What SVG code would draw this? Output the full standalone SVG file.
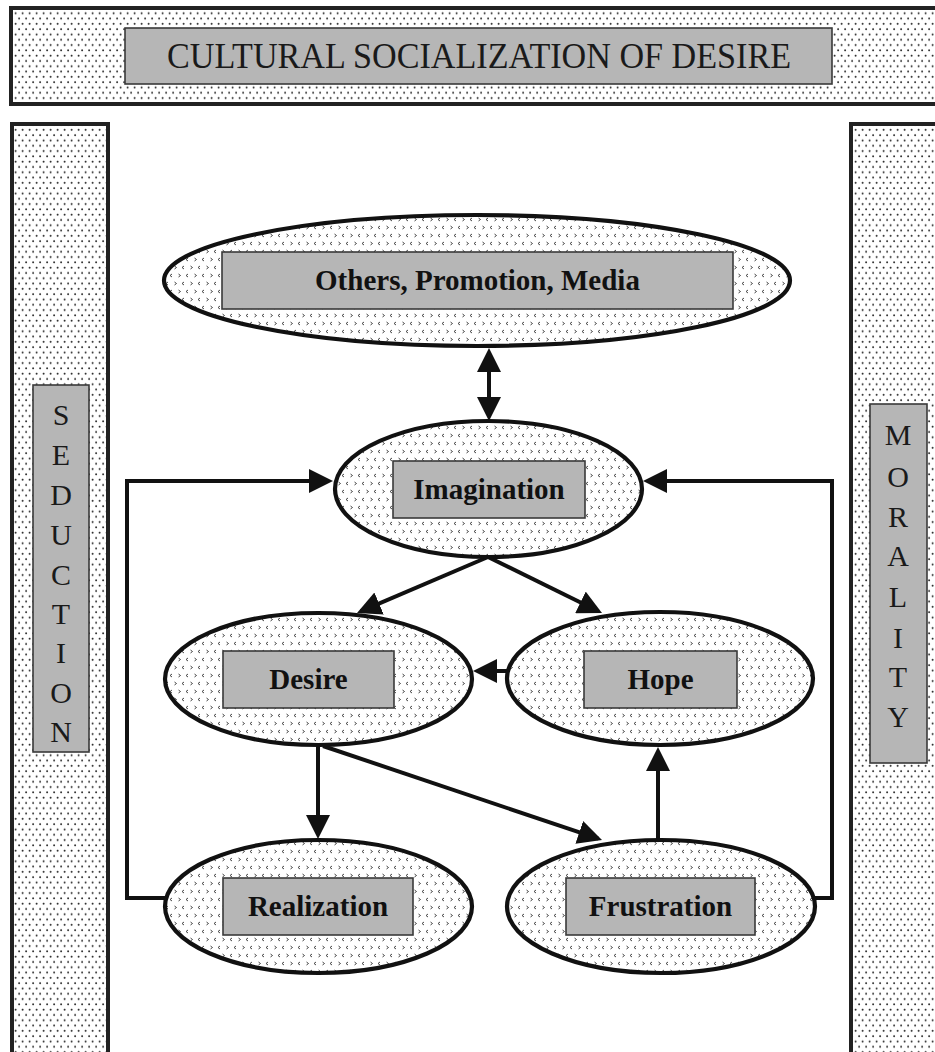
<svg xmlns="http://www.w3.org/2000/svg" width="935" height="1052" viewBox="0 0 935 1052">
<style>
.panel{fill:url(#dots);stroke:#222;stroke-width:4}
.label{fill:#b6b6b6;stroke:#3a3a3a;stroke-width:1.6}
.node{fill:url(#chev);stroke:#111;stroke-width:4.2}
.title{font-family:"Liberation Serif","Times New Roman",serif;font-size:36px;fill:#1a1a1a}
.side{font-family:"Liberation Serif","Times New Roman",serif;font-size:30px;fill:#1a1a1a;text-anchor:middle}
.nt{font-family:"Liberation Serif","Times New Roman",serif;font-size:29px;font-weight:bold;fill:#111;text-anchor:middle}
.conn{fill:none;stroke:#111;stroke-width:4}
</style>
<defs>
<pattern id="dots" patternUnits="userSpaceOnUse" width="7" height="10.6">
<rect width="7" height="10.6" fill="#fff"/>
<circle cx="1.6" cy="2.6" r="1" fill="#2a2a2a"/>
<circle cx="5.1" cy="7.9" r="1" fill="#2a2a2a"/>
</pattern>
<pattern id="chev" patternUnits="userSpaceOnUse" width="16" height="16">
<rect width="16" height="16" fill="#fff"/>
<path d="M2.5,2 L4.5,3.5 L2.5,5 M12,2 L10,3.5 L12,5 M8,10 L6,11.5 L8,13 M14.5,10 L16.5,11.5 L14.5,13 M-1.5,10 L0.5,11.5 L-1.5,13" fill="none" stroke="#333" stroke-width="0.9"/>
</pattern>
<marker id="ah" viewBox="0 0 24 24" refX="20" refY="12" markerWidth="24" markerHeight="24" markerUnits="userSpaceOnUse" orient="auto-start-reverse">
<path d="M0,0 L24,12 L0,24 z" fill="#111"/>
</marker>
</defs>
<rect width="935" height="1052" fill="#fff"/>

<g id="banner">
<rect class="panel" x="11" y="8" width="940" height="96"/>
<rect class="label" x="125" y="28" width="707" height="56"/>
<text class="title" x="479" y="68" text-anchor="middle" textLength="624" lengthAdjust="spacingAndGlyphs">CULTURAL SOCIALIZATION OF DESIRE</text>
</g>

<g id="seduction">
<rect class="panel" x="12" y="124" width="96" height="940"/>
<rect class="label" x="33" y="385" width="56" height="367"/>
<text class="side" x="61"><tspan x="61" y="425">S</tspan><tspan x="61" y="465">E</tspan><tspan x="61" y="505">D</tspan><tspan x="61" y="545">U</tspan><tspan x="61" y="585">C</tspan><tspan x="61" y="624">T</tspan><tspan x="61" y="663">I</tspan><tspan x="61" y="703">O</tspan><tspan x="61" y="742">N</tspan></text>
</g>

<g id="morality">
<rect class="panel" x="851" y="124" width="100" height="940"/>
<rect class="label" x="870" y="404" width="57" height="359"/>
<text class="side" x="898"><tspan x="898" y="445">M</tspan><tspan x="898" y="487">O</tspan><tspan x="898" y="527">R</tspan><tspan x="898" y="566">A</tspan><tspan x="898" y="607">L</tspan><tspan x="898" y="648">I</tspan><tspan x="898" y="687">T</tspan><tspan x="898" y="727">Y</tspan></text>
</g>

<g id="connectors">
<line class="conn" x1="489" y1="352" x2="489" y2="417" marker-start="url(#ah)" marker-end="url(#ah)"/>
<line class="conn" x1="488" y1="557" x2="360.7" y2="611.4" marker-end="url(#ah)"/>
<line class="conn" x1="488" y1="557" x2="598.4" y2="611.2" marker-end="url(#ah)"/>
<line class="conn" x1="507" y1="671" x2="477" y2="671" marker-end="url(#ah)"/>
<line class="conn" x1="318" y1="745" x2="318" y2="835" marker-end="url(#ah)"/>
<line class="conn" x1="323" y1="746" x2="598.2" y2="838.7" marker-end="url(#ah)"/>
<line class="conn" x1="658" y1="840" x2="658" y2="751" marker-end="url(#ah)"/>
<polyline class="conn" points="166,898 127,898 127,481 329,481" marker-end="url(#ah)"/>
<polyline class="conn" points="814,898 832,898 832,481 647,481" marker-end="url(#ah)"/>
</g>

<g id="others">
<ellipse class="node" cx="477" cy="280.5" rx="313" ry="65.5"/>
<rect class="label" x="222" y="252" width="511" height="57"/>
<text class="nt" x="477.5" y="290">Others, Promotion, Media</text>
</g>

<g id="imagination">
<ellipse class="node" cx="488.5" cy="489" rx="153.5" ry="68"/>
<rect class="label" x="393" y="461" width="192" height="57"/>
<text class="nt" x="489" y="499">Imagination</text>
</g>

<g id="desire">
<ellipse class="node" cx="318.5" cy="679" rx="153.5" ry="66"/>
<rect class="label" x="223" y="651" width="171" height="57"/>
<text class="nt" x="308.5" y="689">Desire</text>
</g>

<g id="hope">
<ellipse class="node" cx="660" cy="678.5" rx="153" ry="66.5"/>
<rect class="label" x="584" y="651" width="153" height="57"/>
<text class="nt" x="660.5" y="689">Hope</text>
</g>

<g id="realization">
<ellipse class="node" cx="318.5" cy="906.5" rx="153.5" ry="66.5"/>
<rect class="label" x="223" y="878" width="190" height="57"/>
<text class="nt" x="318" y="916">Realization</text>
</g>

<g id="frustration">
<ellipse class="node" cx="661" cy="906.5" rx="154" ry="66.5"/>
<rect class="label" x="566" y="878" width="189" height="57"/>
<text class="nt" x="660.5" y="916">Frustration</text>
</g>
</svg>
